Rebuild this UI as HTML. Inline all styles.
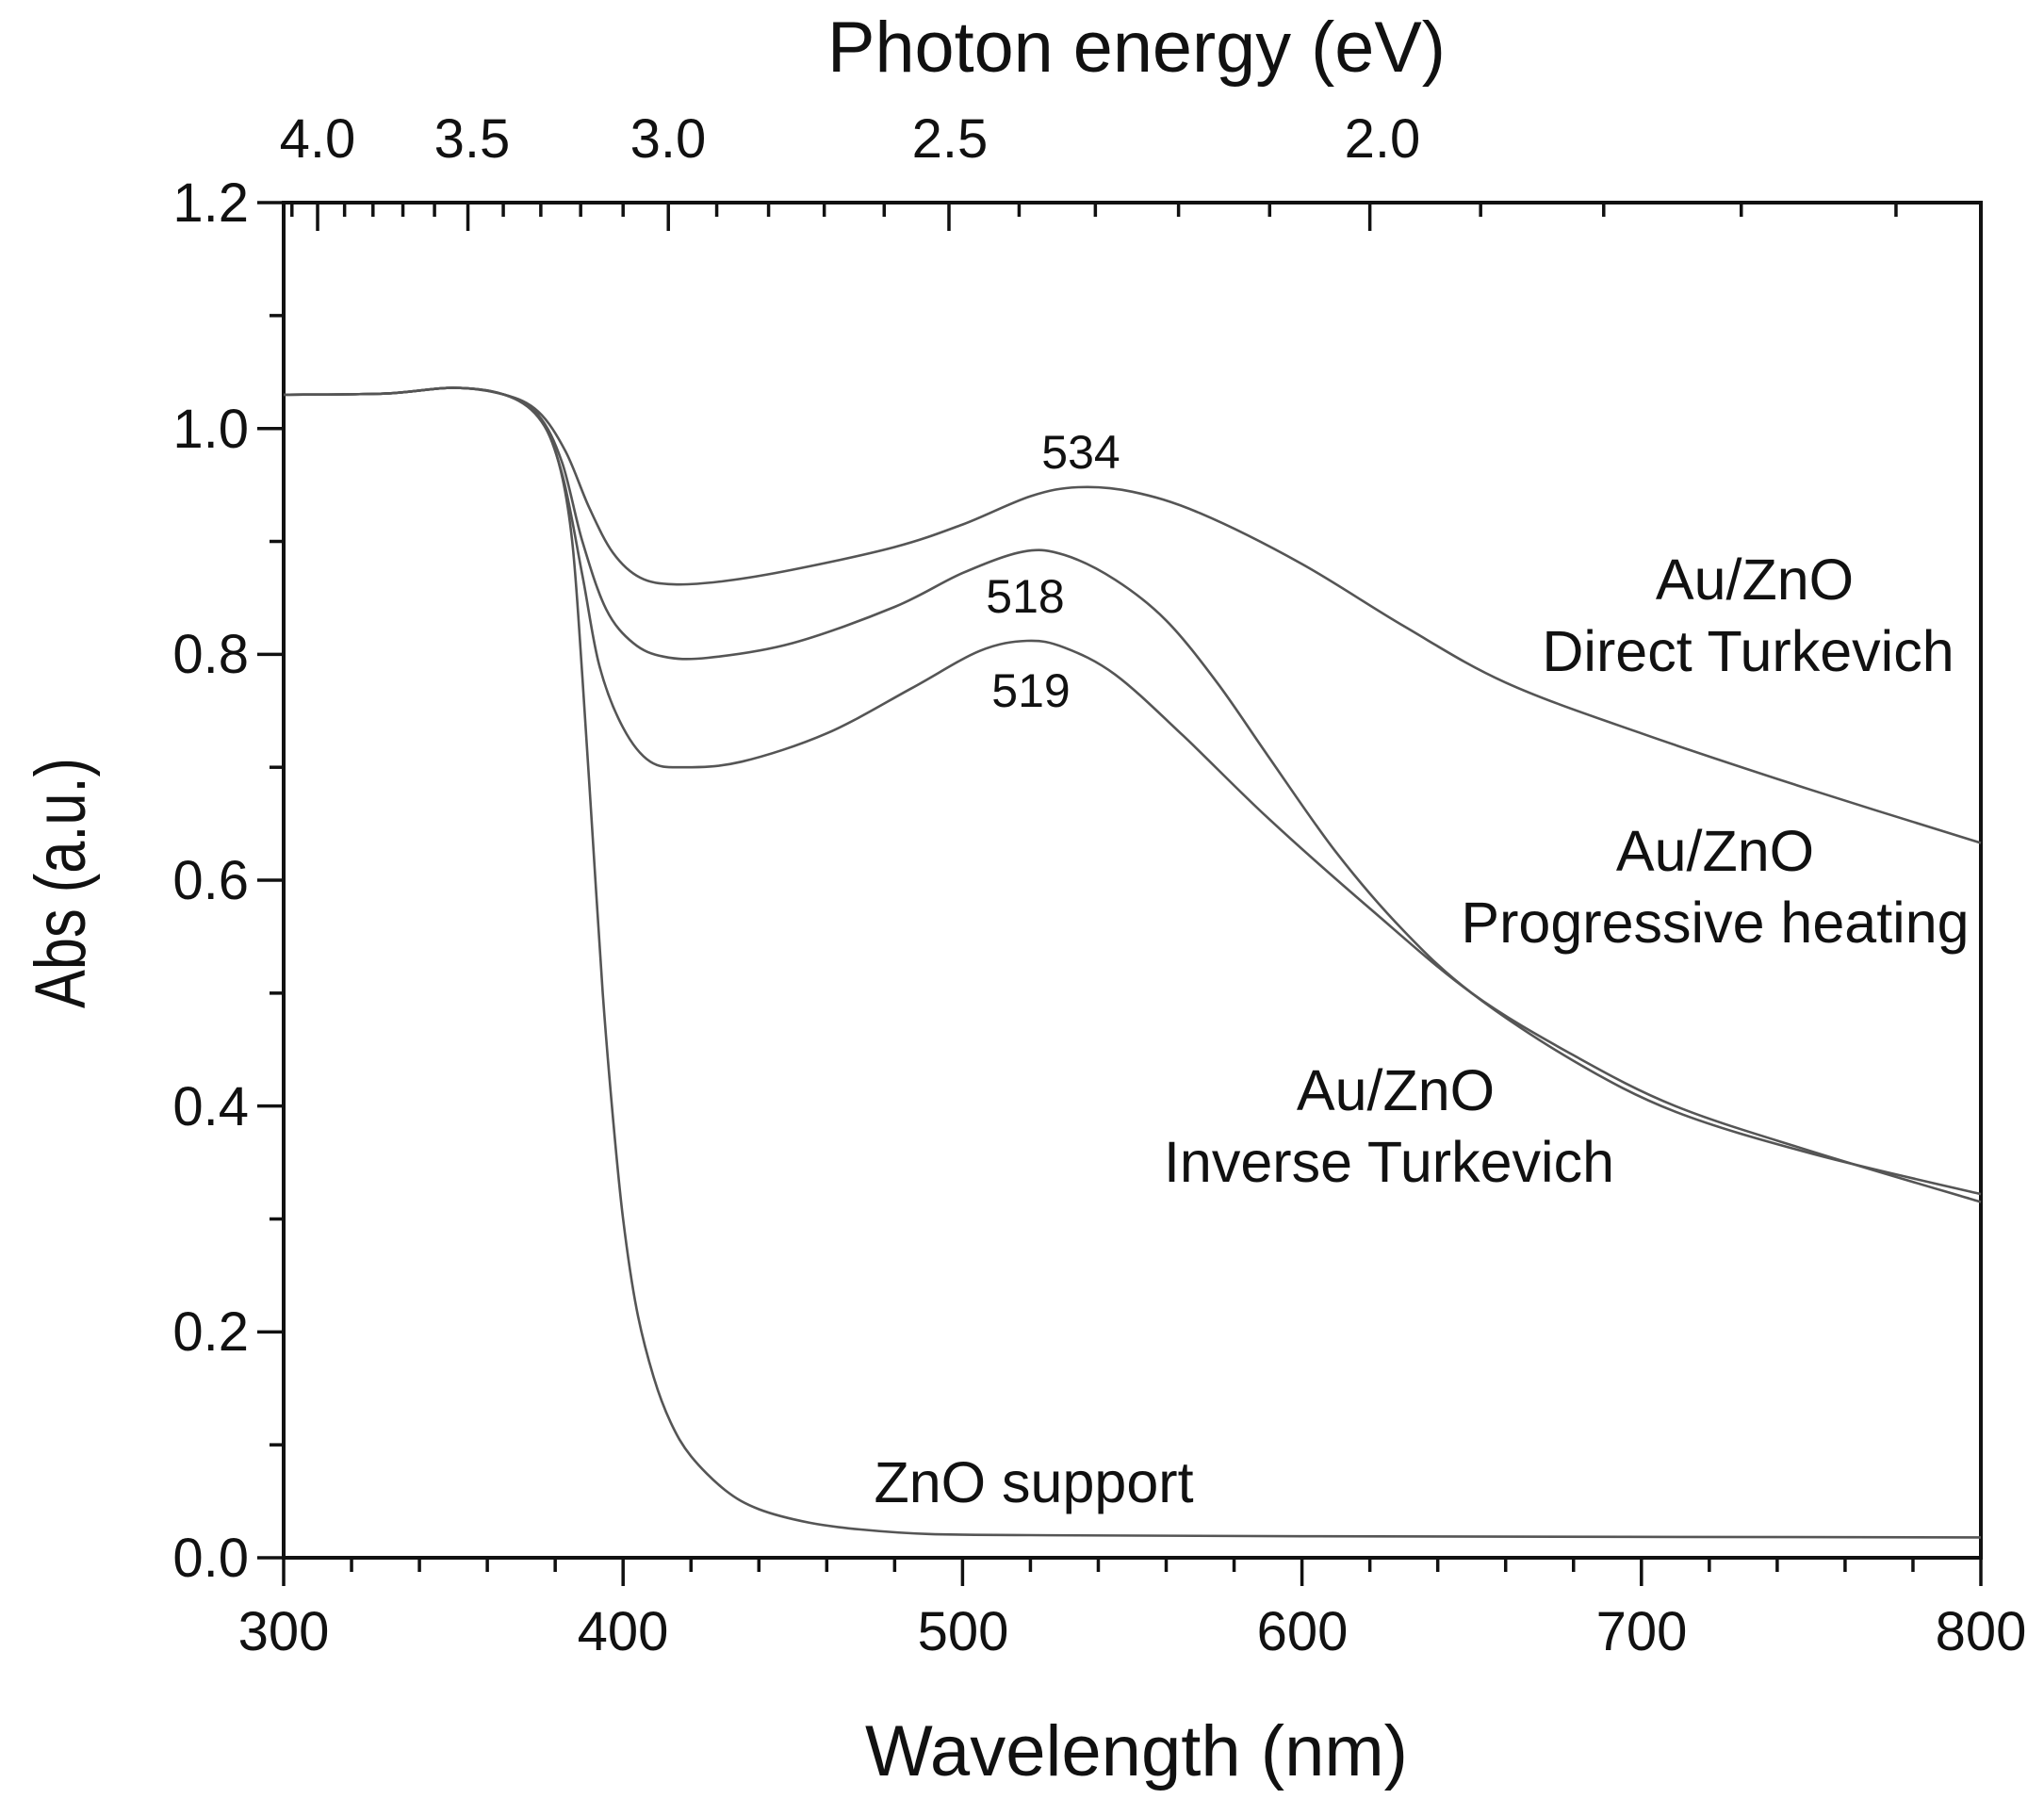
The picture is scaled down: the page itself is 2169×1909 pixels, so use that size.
<!DOCTYPE html>
<html><head><meta charset="utf-8"><style>
html,body{margin:0;padding:0;background:#fff;}
svg{display:block;}
text{font-family:"Liberation Sans",Arial,sans-serif;fill:#111;}
</style></head><body>
<svg id="s" width="2169" height="1909" viewBox="0 0 2169 1909" xmlns="http://www.w3.org/2000/svg">
<g id="ticks" stroke="#111" stroke-width="3.5"></g>
<rect x="301" y="215" width="1801" height="1438" fill="none" stroke="#111" stroke-width="4"/>
<g id="curves" fill="none" stroke="#555" stroke-width="2.6"></g>
<g font-size="58" text-anchor="end">
<text x="264" y="1673">0.0</text>
<text x="264" y="1433">0.2</text>
<text x="264" y="1194">0.4</text>
<text x="264" y="954">0.6</text>
<text x="264" y="714">0.8</text>
<text x="264" y="475">1.0</text>
<text x="264" y="235">1.2</text>
</g>
<g font-size="58" text-anchor="middle">
<text x="301" y="1751">300</text>
<text x="661" y="1751">400</text>
<text x="1022" y="1751">500</text>
<text x="1382" y="1751">600</text>
<text x="1742" y="1751">700</text>
<text x="2102" y="1751">800</text>
<text x="337" y="167">4.0</text>
<text x="501" y="167">3.5</text>
<text x="709" y="167">3.0</text>
<text x="1008" y="167">2.5</text>
<text x="1467" y="167">2.0</text>
</g>
<text x="1206" y="76" font-size="76" text-anchor="middle" textLength="656" lengthAdjust="spacingAndGlyphs">Photon energy (eV)</text>
<text x="1206" y="1884" font-size="76" text-anchor="middle" textLength="576" lengthAdjust="spacingAndGlyphs">Wavelength (nm)</text>
<text transform="translate(90,937) rotate(-90)" font-size="76" text-anchor="middle" textLength="266" lengthAdjust="spacingAndGlyphs">Abs (a.u.)</text>
<g font-size="50" text-anchor="middle">
<text x="1147" y="497">534</text>
<text x="1088" y="650">518</text>
<text x="1094" y="750">519</text>
</g>
<g font-size="61" text-anchor="middle">
<text x="1862" y="636">Au/ZnO</text>
<text x="1855" y="712">Direct Turkevich</text>
<text x="1820" y="924">Au/ZnO</text>
<text x="1820" y="1000">Progressive heating</text>
<text x="1481" y="1178">Au/ZnO</text>
<text x="1474" y="1254">Inverse Turkevich</text>
<text x="1097" y="1594">ZnO support</text>
</g>
</svg>
<script>
(function(){
var NS="http://www.w3.org/2000/svg";
function X(l){return 301+3.602*(l-300);}
function Y(a){return 1653-1198.3*a;}
var t=document.getElementById('ticks');
function ln(x1,y1,x2,y2){var e=document.createElementNS(NS,'line');e.setAttribute('x1',x1);e.setAttribute('y1',y1);e.setAttribute('x2',x2);e.setAttribute('y2',y2);t.appendChild(e);}
for(var l=300;l<=800;l+=20){var x=X(l);ln(x,1653,x,1653+((l%100==0)?30:15));}
for(var i=0;i<=12;i++){var y=Y(i/10);ln(301,y,301-((i%2==0)?28:15),y);}
for(var e=41;e>=16;e--){var lam=1240/(e/10);if(lam<300||lam>800)continue;var x=X(lam);ln(x,215,x,215+((e%5==0)?30:15));}
var data={
d:[[300,1.03],[330,1.031],[350,1.036],[365,1.03],[375,1.015],[383,0.98],[390,0.93],[397,0.89],[405,0.868],[415,0.862],[430,0.865],[450,0.875],[480,0.895],[500,0.915],[520,0.94],[534,0.948],[550,0.944],[570,0.925],[600,0.88],[630,0.825],[660,0.775],[700,0.73],[750,0.68],[800,0.633]],
p:[[300,1.03],[330,1.031],[350,1.036],[365,1.03],[375,1.012],[382,0.97],[388,0.9],[395,0.84],[403,0.81],[412,0.798],[425,0.797],[450,0.81],[480,0.842],[500,0.872],[518,0.891],[530,0.888],[545,0.866],[560,0.83],[575,0.775],[590,0.71],[610,0.625],[630,0.555],[650,0.5],[680,0.44],[710,0.395],[750,0.358],[800,0.322]],
i:[[300,1.03],[330,1.031],[350,1.036],[365,1.03],[375,1.012],[382,0.96],[388,0.87],[393,0.79],[400,0.735],[408,0.705],[418,0.7],[435,0.705],[460,0.73],[485,0.77],[505,0.803],[519,0.812],[530,0.806],[545,0.782],[565,0.728],[590,0.655],[620,0.575],[650,0.5],[680,0.445],[710,0.4],[750,0.36],[800,0.315]],
z:[[300,1.03],[330,1.031],[350,1.036],[365,1.03],[375,1.01],[381,0.97],[385,0.9],[388,0.78],[391,0.64],[394,0.5],[397,0.39],[400,0.3],[404,0.22],[409,0.16],[414,0.12],[420,0.09],[430,0.06],[440,0.043],[455,0.031],[470,0.025],[490,0.021],[520,0.02],[600,0.019],[800,0.018]]};
var g=document.getElementById('curves');
for(var k in data){var p=data[k].map(function(q){return [X(q[0]),Y(q[1])];});
var d='M'+p[0][0].toFixed(1)+','+p[0][1].toFixed(1);
for(var j=0;j<p.length-1;j++){var p0=p[j-1]||p[j],p1=p[j],p2=p[j+1],p3=p[j+2]||p[j+1];
var c1=[p1[0]+(p2[0]-p0[0])/6,p1[1]+(p2[1]-p0[1])/6],c2=[p2[0]-(p3[0]-p1[0])/6,p2[1]-(p3[1]-p1[1])/6];
d+='C'+c1[0].toFixed(1)+','+c1[1].toFixed(1)+' '+c2[0].toFixed(1)+','+c2[1].toFixed(1)+' '+p2[0].toFixed(1)+','+p2[1].toFixed(1);}
var e=document.createElementNS(NS,'path');e.setAttribute('d',d);g.appendChild(e);}
})();
</script>
</body></html>
